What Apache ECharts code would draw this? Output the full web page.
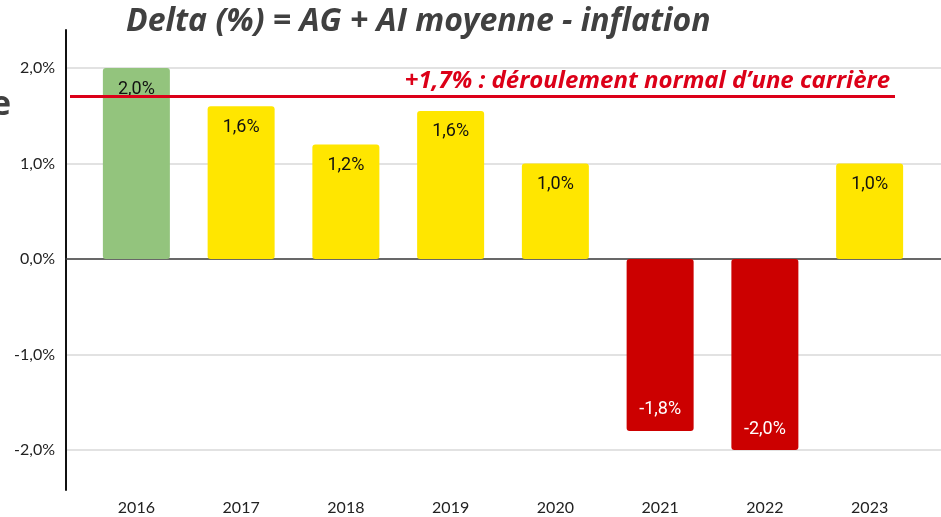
<!DOCTYPE html>
<html>
<head>
<meta charset="utf-8">
<script src="https://cdn.jsdelivr.net/npm/echarts@6/dist/echarts.min.js"></script>
<style>
    html, body { margin: 0; padding: 0; background: #fff; }
    #chart { width: 941px; height: 517px; }
</style>
</head>
<body>
<div id="chart"></div>
<script>
const years = ['2016', '2017', '2018', '2019', '2020', '2021', '2022', '2023'];
const deltas = [2.0, 1.6, 1.2, 1.55, 1.0, -1.8, -2.0, 1.0];
const barColors = ['#93c47d', '#ffe600', '#ffe600', '#ffe600', '#ffe600', '#cc0000', '#cc0000', '#ffe600'];
const normalCareer = 1.7;
const normalCareerText = '+1,7% : déroulement normal d\u2019une carrière';
const titleText = 'Delta (%) = AG + AI moyenne - inflation';

function pct(v) {
    return v.toFixed(1).replace('.', ',') + '%';
}

let dom = document.getElementById('chart');
let myChart = echarts.init(dom, null, { renderer: 'canvas' });

let barData = [];
for (let i = 0; i < deltas.length; i++) {
    let v = deltas[i];
    barData.push({
        value: v,
        itemStyle: { color: barColors[i] },
        label: {
            position: v >= 0 ? 'insideTop' : 'insideBottom',
            color: v >= 0 ? '#111' : '#fff'
        }
    });
}

option = {
    animation: false,
    title: {
        text: titleText,
        left: 121,
        top: 1,
        textStyle: {
            fontFamily: 'Open Sans',
            fontStyle: 'italic',
            fontWeight: 'bold',
            fontSize: 32,
            color: '#404040'
        }
    },
    graphic: [
        {
            type: 'text',
            left: -9,
            top: 88,
            style: {
                text: 'e',
                font: 'bold 34px "Open Sans"',
                fill: '#404040'
            }
        }
    ],
    grid: [
        // gridlines + labels
        { left: 66, right: 0, top: 68, bottom: 67 },
        // vertical axis line
        { left: 66, right: 0, top: 30, bottom: 27 },
        // bars
        { left: 84, right: 19, top: 68, bottom: 67 },
        // reference line
        { left: 70, right: 46, top: 68, bottom: 67 }
    ],
    xAxis: [
        {
            gridIndex: 0, type: 'value', min: 0, max: 1,
            axisLine: { show: true, onZero: true, lineStyle: { color: '#404040', width: 1.5 } },
            axisTick: { show: false }, axisLabel: { show: false }, splitLine: { show: false }
        },
        {
            gridIndex: 1, type: 'value', min: 0, max: 1, show: false
        },
        {
            gridIndex: 2, type: 'category', data: years,
            axisLine: { show: false }, axisTick: { show: false },
            axisLabel: { margin: 50, fontFamily: 'Lato', fontSize: 16, color: '#222' }
        },
        {
            gridIndex: 3, type: 'value', min: 0, max: 1, show: false
        }
    ],
    yAxis: [
        {
            gridIndex: 0, type: 'value', min: -2, max: 2, interval: 1,
            axisLine: { show: false }, axisTick: { show: false },
            axisLabel: { formatter: pct, margin: 11, fontFamily: 'Lato', fontSize: 16, color: '#222' },
            splitLine: { lineStyle: { color: '#d9d9d9', width: 1.5 } }
        },
        {
            gridIndex: 1, type: 'value', min: -2.4, max: 2.4,
            axisLine: { show: true, lineStyle: { color: '#111', width: 2 } },
            axisTick: { show: false }, axisLabel: { show: false }, splitLine: { show: false }
        },
        {
            gridIndex: 2, type: 'value', min: -2, max: 2, show: false
        },
        {
            gridIndex: 3, type: 'value', min: -2, max: 2, show: false
        }
    ],
    series: [
        {
            name: 'Delta',
            type: 'bar',
            xAxisIndex: 2,
            yAxisIndex: 2,
            barWidth: 67,
            itemStyle: { borderRadius: 3 },
            label: {
                show: true,
                distance: 12,
                fontFamily: 'Roboto',
                fontSize: 18,
                formatter: (p) => pct(p.value)
            },
            data: barData
        },
        {
            name: 'Carrière',
            type: 'line',
            xAxisIndex: 3,
            yAxisIndex: 3,
            data: [],
            z: 5,
            markLine: {
                silent: true,
                symbol: 'none',
                lineStyle: { color: '#dc0018', width: 3, type: 'solid' },
                label: {
                    show: true,
                    position: 'insideEndTop',
                    distance: [5, 3],
                    formatter: normalCareerText,
                    fontFamily: 'Open Sans',
                    fontStyle: 'italic',
                    fontWeight: 'bold',
                    fontSize: 24,
                    color: '#dc0018'
                },
                data: [{ yAxis: normalCareer }]
            }
        }
    ]
};

myChart.setOption(option);
</script>
</body>
</html>
